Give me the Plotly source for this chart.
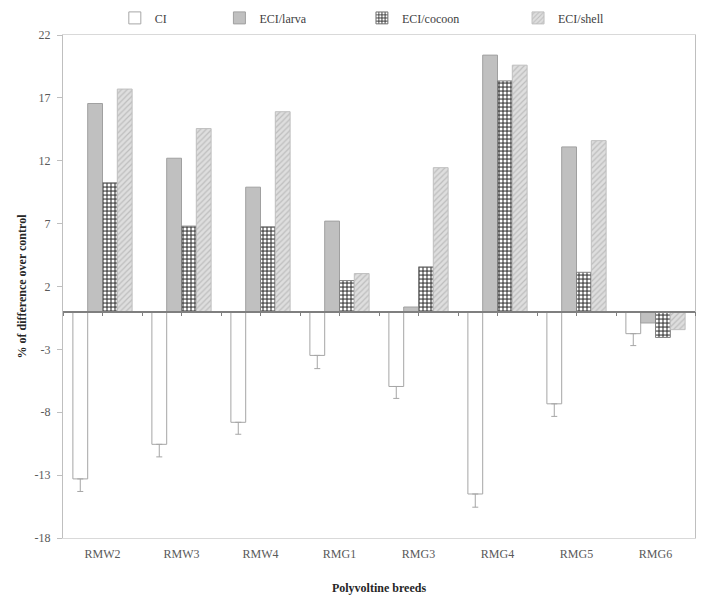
import plotly.graph_objects as go

categories = ["RMW2", "RMW3", "RMW4", "RMG1", "RMG3", "RMG4", "RMG5", "RMG6"]
ci = [-13.3, -10.55, -8.8, -3.48, -5.95, -14.5, -7.33, -1.75]
ci_err = [1.0, 1.0, 0.95, 1.05, 0.95, 1.05, 1.0, 0.95]
eci_larva = [16.55, 12.2, 9.9, 7.2, 0.37, 20.4, 13.1, -0.9]
eci_cocoon = [10.25, 6.8, 6.75, 2.47, 3.56, 18.35, 3.13, -2.05]
eci_shell = [17.7, 14.56, 15.9, 3.03, 11.45, 19.6, 13.6, -1.43]
y_ticks = [22, 17, 12, 7, 2, -3, -8, -13, -18]

FONT = "Liberation Serif"

fig = go.Figure()
fig.add_trace(go.Bar(
    name="CI", x=categories, y=ci, legend="legend",
    marker=dict(color="white", line=dict(color="#a6a6a6", width=1)),
    error_y=dict(type="data", symmetric=False, array=[0] * len(ci), arrayminus=ci_err,
                 color="#a6a6a6", thickness=1, width=3),
))
fig.add_trace(go.Bar(
    name="ECI/larva", x=categories, y=eci_larva, legend="legend2",
    marker=dict(color="#c0c0c0", line=dict(color="#a0a0a0", width=1)),
))
fig.add_trace(go.Bar(
    name="ECI/cocoon", x=categories, y=eci_cocoon, legend="legend3",
    marker=dict(color="#5a5a5a", line=dict(color="#808080", width=1),
                pattern=dict(shape=".", fgcolor="white", bgcolor="#5a5a5a",
                             size=4, solidity=0.45, fillmode="replace")),
))
fig.add_trace(go.Bar(
    name="ECI/shell", x=categories, y=eci_shell, legend="legend4",
    marker=dict(color="#d9d9d9", line=dict(color="#bfbfbf", width=1),
                pattern=dict(shape="/", fgcolor="#bdbdbd", bgcolor="#dedede",
                             size=4, solidity=0.3, fillmode="replace")),
))
# helper trace for zero-line axis
fig.add_trace(go.Scatter(
    x=list(range(len(categories))), y=[0] * len(categories), xaxis="x2",
    mode="lines", line=dict(width=0), showlegend=False, hoverinfo="skip",
))

n = len(categories)


def leg(x):
    return dict(orientation="h", x=x, xanchor="left", y=1.034, yanchor="middle",
                font=dict(family=FONT, size=12, color="#404040"), itemwidth=30,
                bgcolor="rgba(0,0,0,0)")


fig.update_layout(
    width=700, height=596,
    margin=dict(l=55, r=13, t=27, b=66, autoexpand=False),
    paper_bgcolor="white", plot_bgcolor="white",
    barmode="group", bargap=0.25, bargroupgap=0,
    font=dict(family=FONT, size=12, color="#404040"),
    showlegend=True,
    legend=leg(0.082), legend2=leg(0.2475), legend3=leg(0.473), legend4=leg(0.72),
    xaxis=dict(
        type="category", range=[-0.5, n - 0.5],
        showline=True, linecolor="#d9d9d9", linewidth=1, mirror=True,
        ticks="", showgrid=False, zeroline=False, ticklabelstandoff=5,
        tickfont=dict(family=FONT, size=12, color="#595959"),
        title=dict(text="<b>Polyvoltine breeds</b>", font=dict(family=FONT, size=12, color="#262626"),
                   standoff=23),
    ),
    xaxis2=dict(
        overlaying="x", anchor="free", position=18 / 40, type="linear",
        range=[-0.5, n - 0.5],
        tickvals=[i * 0.5 - 0.5 for i in range(2 * n + 1)],
        showticklabels=False, ticks="outside", ticklen=4, tickcolor="#7f7f7f",
        showline=True, linecolor="#7f7f7f", linewidth=1.5, showgrid=False, zeroline=False,
    ),
    yaxis=dict(
        range=[-18, 22], tickvals=y_ticks, ticktext=[str(v) for v in y_ticks],
        showline=True, linecolor="#bfbfbf", linewidth=1, mirror=True,
        ticks="outside", ticklen=5, tickcolor="#bfbfbf", ticklabelstandoff=4,
        showgrid=False, zeroline=False,
        tickfont=dict(family=FONT, size=12, color="#595959"),
        title=dict(text="<b>% of difference over control</b>", font=dict(family=FONT, size=12, color="#262626"),
                   standoff=5),
    ),
)

fig.write_html("out.html")
